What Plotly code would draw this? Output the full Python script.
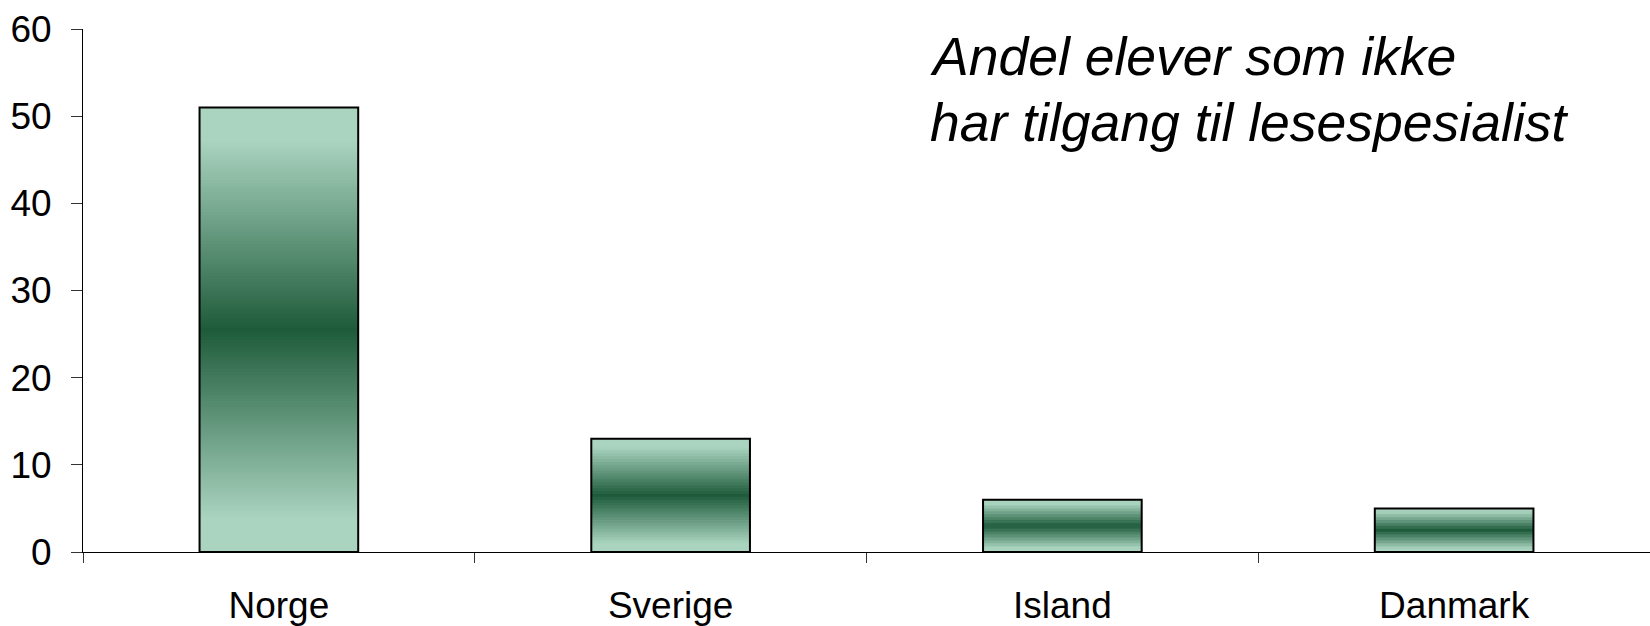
import plotly.graph_objects as go

# ---- data ----
categories = ["Norge", "Sverige", "Island", "Danmark"]
values = [51, 13, 6, 5]
y_ticks = [0, 10, 20, 30, 40, 50, 60]
title_lines = ["Andel elever som ikke", "har tilgang til lesespesialist"]

# ---- style ----
LIGHT = (170, 212, 192)
DARK = (30, 91, 59)
FONT = "Liberation Sans, Arial, sans-serif"


def blend(w):
    r = [round(DARK[i] + (LIGHT[i] - DARK[i]) * w) for i in range(3)]
    return f"rgb({r[0]},{r[1]},{r[2]})"


# gradient slices derived from each bar's value (style only);
# each slice overlaps the next one to avoid seams
seg_x, seg_base, seg_h, seg_col = [], [], [], []
for cat, v in zip(categories, values):
    n = max(12, int(v * 3))
    step = v / n
    for i in range(n):
        mid = (i + 0.5) / n
        t = abs(mid * 2 - 1)
        w = min(1.0, t / 0.85)
        seg_x.append(cat)
        seg_base.append(i * step)
        seg_h.append(step * (1.0 if i == n - 1 else 2.0))
        seg_col.append(blend(w))

fig = go.Figure()
fig.add_trace(go.Bar(
    x=seg_x, y=seg_h, base=seg_base,
    marker=dict(color=seg_col, line=dict(width=0)),
    hoverinfo="skip", showlegend=False,
))
fig.add_trace(go.Bar(
    x=categories, y=values,
    marker=dict(color="rgba(0,0,0,0)", line=dict(color="black", width=2)),
    showlegend=False,
))

for k, line in enumerate(title_lines):
    fig.add_annotation(
        text=line,
        xref="paper", yref="paper", x=0.5395, y=1.0,
        xanchor="left", yanchor="top", align="left", showarrow=False,
        yshift=4 - 66 * k,
        font=dict(family=FONT, size=53.5, color="black", style="italic"),
    )

fig.update_layout(
    width=1650, height=626,
    margin=dict(l=83, r=0, t=29, b=74),
    paper_bgcolor="white", plot_bgcolor="white",
    barmode="overlay", bargap=0.595,
    font=dict(family=FONT, size=37, color="black"),
)
fig.update_xaxes(
    type="category", categoryorder="array", categoryarray=categories,
    showline=True, linecolor="black", linewidth=1,
    ticks="outside", tickson="boundaries", ticklen=10, tickcolor="#333",
    tickwidth=1, showgrid=False, zeroline=False, automargin=False,
    tickfont=dict(family=FONT, size=37, color="black"),
    ticklabelstandoff=21,
)
fig.update_yaxes(
    range=[0, 60], tickvals=y_ticks,
    showline=True, linecolor="black", linewidth=1,
    ticks="outside", ticklen=11, tickcolor="#333", tickwidth=1,
    showgrid=False, zeroline=False, automargin=False,
    tickfont=dict(family=FONT, size=37, color="black"),
    ticklabelstandoff=12,
)

fig.write_html(
    "out.html",
    config={"displayModeBar": False},
    post_script="document.body.style.margin='0';document.body.style.overflow='hidden';",
)
